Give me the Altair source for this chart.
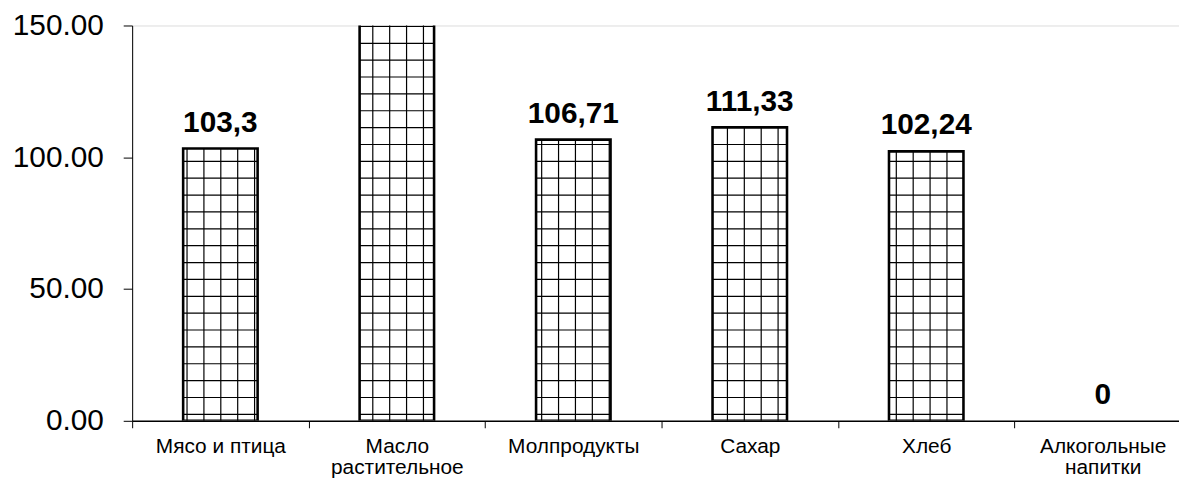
import json
import altair as alt
import pandas as pd

categories = ["Мясо и птица", "Масло\nрастительное", "Молпродукты", "Сахар", "Хлеб", "Алкогольные\nнапитки"]
values = [103.3, 165.0, 106.71, 111.33, 102.24, 0]
labels = ["103,3", "165", "106,71", "111,33", "102,24", "0"]

HALF = 0.211          # half bar width, in category units
XSTEP, XPH = 0.0957, 0.311   # pattern spacing (style)
YSTEP, YPH = 6.4, 2.45

bars = pd.DataFrame({
    "idx": list(range(len(categories))),
    "cat": categories,
    "value": values,
    "label": labels,
})
bars["xs"] = bars["idx"] + 0.5 - HALF
bars["xe"] = bars["idx"] + 0.5 + HALF
bars["xc"] = bars["idx"] + 0.5

vrows, hrows = [], []
for _, r in bars.iterrows():
    if r["value"] <= 0:
        continue
    k = 0
    while True:
        x = XPH + XSTEP * k
        if x >= r["xe"]:
            break
        if x > r["xs"] + 0.005 and x < r["xe"] - 0.005:
            vrows.append({"x": x, "y": 0, "y2": r["value"]})
        k += 1
    k = 0
    while True:
        y = YPH + YSTEP * k
        if y >= r["value"] - 0.3:
            break
        hrows.append({"x": r["xs"], "x2": r["xe"], "y": y})
        k += 1
vlines = pd.DataFrame(vrows)
hlines = pd.DataFrame(hrows)

FONT = "Liberation Sans"
cat_js = json.dumps(categories, ensure_ascii=False)

xscale = alt.Scale(domain=[0, 6], range=[0, 1066], nice=False, zero=False)
yscale = alt.Scale(domain=[0, 150], nice=False)

xaxis = alt.Axis(
    values=[i * 0.5 for i in range(13)],
    labelExpr=f"datum.value % 1 == 0 ? '' : split({cat_js}[floor(datum.value)], '\\n')",
    tickOpacity={"condition": {"test": "datum.value % 1 == 0", "value": 1}, "value": 0},
    tickSize=7, tickColor="black", tickWidth=1,
    domainColor="black", domainWidth=1.5,
    labelFont=FONT, labelFontSize=21, labelColor="black",
    labelPadding=8, labelLineHeight=21, labelOverlap=False,
    labelBound=False, labelFlush=False, grid=False, title=None,
)
yaxis = alt.Axis(
    values=[0, 50, 100, 150], format=".2f",
    tickSize=9, tickColor="black", domainColor="black", domainWidth=1,
    labelFont=FONT, labelFontSize=30, labelColor="black", labelPadding=20,
    grid=False, title=None,
)

base = alt.Chart(bars)

fill = base.mark_rect(fill="white", clip=True).encode(
    x=alt.X("xs:Q", scale=xscale, axis=xaxis),
    x2="xe:Q",
    y=alt.Y("value:Q", scale=yscale, axis=yaxis),
    y2=alt.datum(0),
)

vl = alt.Chart(vlines).mark_rule(color="black", strokeWidth=1.2, clip=True).encode(
    x=alt.X("x:Q", scale=xscale), y=alt.Y("y:Q", scale=yscale), y2="y2:Q"
)
hl = alt.Chart(hlines).mark_rule(color="black", strokeWidth=1.2, clip=True).encode(
    x=alt.X("x:Q", scale=xscale), x2="x2:Q", y=alt.Y("y:Q", scale=yscale)
)

outline = base.transform_filter("datum.value > 0").mark_rect(
    fill=None, stroke="black", strokeWidth=2.6, clip=True
).encode(
    x=alt.X("xs:Q", scale=xscale), x2="xe:Q",
    y=alt.Y("value:Q", scale=yscale), y2=alt.datum(0),
)

text = base.transform_filter("datum.value <= 150").mark_text(
    font=FONT, fontSize=30, fontWeight="bold", color="black",
    baseline="alphabetic", dy=-17, clip=True,
).encode(
    x=alt.X("xc:Q", scale=xscale),
    y=alt.Y("value:Q", scale=yscale),
    text="label:N",
)

chart = alt.layer(fill, vl, hl, outline, text).properties(
    width=1054, height=398,
    padding={"left": 125, "top": 16, "right": 0, "bottom": 61},
    autosize=alt.AutoSizeParams(type="none"),
).configure_view(stroke=None).configure(background="white")

chart.save("out.html", embed_options={"renderer": "svg", "actions": False})
